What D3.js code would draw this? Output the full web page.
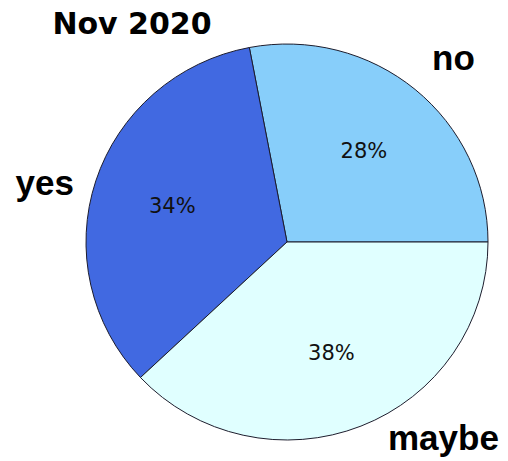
<!DOCTYPE html>
<html>
<head>
<meta charset="utf-8">
<script src="https://cdn.jsdelivr.net/npm/d3@7"></script>
<style>
  html, body { margin: 0; padding: 0; background: #fff; }
</style>
</head>
<body>
<div id="chart"></div>
<script>
// data
const categories = ['no', 'yes', 'maybe']
const shares = [28, 34, 38]
const colors = ['#87CEFA', '#4169E1', '#E0FFFF']
const title = 'Nov 2020'

const width = 508
const height = 461
const cx = 287
const cy = 242
const radius = 201

const svg = d3.select('#chart')
  .append('svg')
  .attr('width', width)
  .attr('height', height)

// counterclockwise from east, like matplotlib's default pie
const pie = d3.pie()
  .sort(null)
  .startAngle(Math.PI / 2)
  .endAngle(Math.PI / 2 - 2 * Math.PI)
  .value(d => d)

const arc = d3.arc()
  .innerRadius(0)
  .outerRadius(radius)

const slices = pie(shares)

const g = svg.append('g')
  .attr('transform', `translate(${cx},${cy}) scale(1,0.985)`)

g.selectAll('path')
  .data(slices)
  .join('path')
  .attr('d', arc)
  .attr('fill', (d, i) => colors[i])
  .attr('stroke', '#1b1b2b')
  .attr('stroke-width', 1)

// percentage labels at 0.6 of the radius
const pctArc = d3.arc()
  .innerRadius(radius * 0.6)
  .outerRadius(radius * 0.6)

g.selectAll('text.pct')
  .data(slices)
  .join('text')
  .attr('class', 'pct')
  .attr('transform', d => {
    const [x, y] = pctArc.centroid(d)
    return `translate(${x},${y + 8})`
  })
  .attr('text-anchor', 'middle')
  .style('font-family', 'DejaVu Sans, sans-serif')
  .style('font-size', '21px')
  .style('fill', '#111')
  .text(d => d.data + '%')

// category labels
const labelPos = [
  { x: 432, y: 70, anchor: 'start' },
  { x: 74, y: 195, anchor: 'end' },
  { x: 388, y: 450, anchor: 'start' }
]

svg.selectAll('text.cat')
  .data(categories)
  .join('text')
  .attr('class', 'cat')
  .attr('x', (d, i) => labelPos[i].x)
  .attr('y', (d, i) => labelPos[i].y)
  .attr('text-anchor', (d, i) => labelPos[i].anchor)
  .style('font-family', 'Liberation Sans, Arial, sans-serif')
  .style('font-weight', 'bold')
  .style('font-size', '35px')
  .style('fill', '#000')
  .text(d => d)

svg.append('text')
  .attr('x', 132)
  .attr('y', 34)
  .attr('text-anchor', 'middle')
  .style('font-family', 'DejaVu Sans, sans-serif')
  .style('font-weight', 'bold')
  .style('font-size', '30px')
  .style('fill', '#000')
  .text(title)
</script>
</body>
</html>
